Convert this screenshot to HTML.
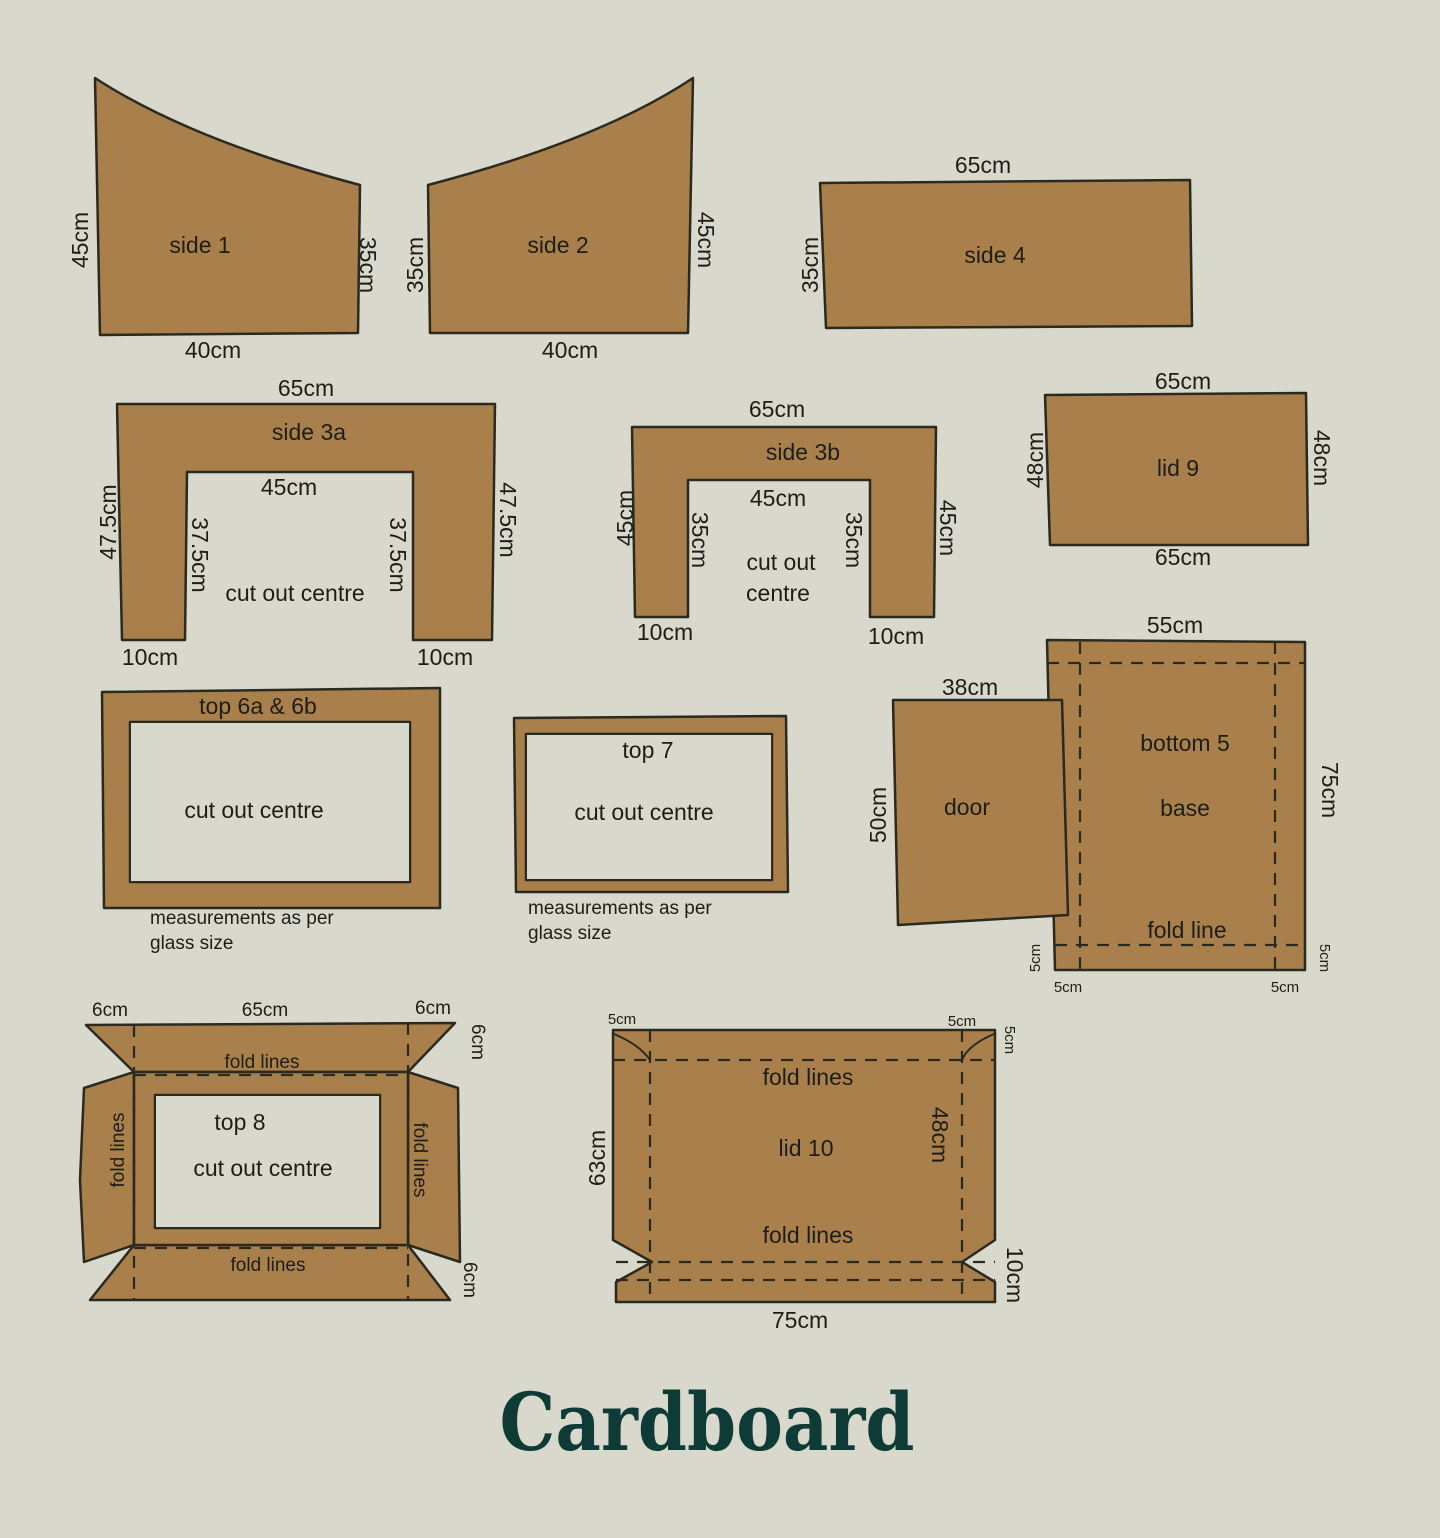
<!DOCTYPE html>
<html><head><meta charset="utf-8"><style>
html,body{margin:0;padding:0;background:#d8d8cc;}
svg{display:block}
text{font-family:"Liberation Sans",sans-serif;fill:#1e1e18;font-size:23px;}
.s{font-size:19px}
.xs{font-size:15px}
</style></head><body>
<svg width="1440" height="1538" viewBox="0 0 1440 1538" xmlns="http://www.w3.org/2000/svg">
<rect width="1440" height="1538" fill="#d8d8cc"/>
<g fill="#a9804b" stroke="#2a2a1e" stroke-width="2.5" stroke-linejoin="round">
<path d="M95,78 Q190,140 360,185 L358,333 L100,335 Z"/>
<path d="M428,185 Q600,140 693,78 L688,333 L430,333 Z"/>
<polygon points="820,183 1190,180 1192,326 826,328"/>
<polygon points="117,404 495,404 492,640 413,640 413,472 187,472 185,640 122,640"/>
<polygon points="632,427 936,427 934,617 870,617 870,480 688,480 688,617 635,617"/>
<polygon points="1045,395 1306,393 1308,545 1050,545"/>
<path d="M102,692 L440,688 L440,908 L104,908 Z M130,722 L130,882 L410,882 L410,722 Z" fill-rule="evenodd"/>
<path d="M514,718 L786,716 L788,892 L516,892 Z M526,734 L526,880 L772,880 L772,734 Z" fill-rule="evenodd"/>
<polygon points="1047,640 1305,642 1305,970 1055,970"/>
<polygon points="893,700 1062,700 1068,915 898,925"/>
<polygon points="86,1025 455,1023 408,1072 134,1072"/>
<polygon points="84,1088 134,1072 134,1245 84,1262 80,1180"/>
<polygon points="408,1072 458,1088 460,1262 408,1245"/>
<polygon points="134,1245 408,1245 450,1300 90,1300"/>
<path d="M134,1072 L408,1072 L408,1245 L134,1245 Z M155,1095 L155,1228 L380,1228 L380,1095 Z" fill-rule="evenodd"/>
<polygon points="613,1030 995,1030 995,1240 962,1262 995,1282 995,1302 616,1302 616,1282 652,1262 613,1240"/>
</g>
<g fill="#d8d8cc" stroke="none">
<rect x="156" y="1096" width="223" height="131"/>
<rect x="131" y="723" width="278" height="158"/>
<rect x="527" y="735" width="244" height="144"/>
</g>
<g stroke="#2a2a1e" stroke-width="2" fill="none">
<path d="M614,1034 Q640,1045 650,1060"/><path d="M994,1034 Q968,1045 962,1060"/>
</g>
<g stroke="#2a2a1e" stroke-width="2.2" stroke-dasharray="12,9" fill="none">
<line x1="1047" y1="663" x2="1305" y2="663"/><line x1="1055" y1="945" x2="1305" y2="945"/>
<line x1="1080" y1="642" x2="1080" y2="970"/><line x1="1275" y1="642" x2="1275" y2="970"/>
<line x1="134" y1="1025" x2="134" y2="1300"/><line x1="408" y1="1023" x2="408" y2="1300"/>
<line x1="134" y1="1075" x2="408" y2="1075"/><line x1="134" y1="1248" x2="408" y2="1248"/>
<line x1="613" y1="1060" x2="995" y2="1060"/><line x1="616" y1="1262" x2="995" y2="1262"/>
<line x1="616" y1="1280" x2="995" y2="1280"/>
<line x1="650" y1="1030" x2="650" y2="1302"/><line x1="962" y1="1030" x2="962" y2="1302"/>
</g>
<g text-anchor="middle">
<text x="80" y="240" transform="rotate(-90 80 240)" dy="8">45cm</text>
<text x="200" y="253">side 1</text>
<text x="368" y="265" transform="rotate(90 368 265)" dy="8">35cm</text>
<text x="213" y="358">40cm</text>
<text x="415" y="265" transform="rotate(-90 415 265)" dy="8">35cm</text>
<text x="558" y="253">side 2</text>
<text x="706" y="240" transform="rotate(90 706 240)" dy="8">45cm</text>
<text x="570" y="358">40cm</text>
<text x="983" y="173">65cm</text>
<text x="810" y="265" transform="rotate(-90 810 265)" dy="8">35cm</text>
<text x="995" y="263">side 4</text>
<text x="306" y="396">65cm</text>
<text x="309" y="440">side 3a</text>
<text x="289" y="495">45cm</text>
<text x="108" y="522" transform="rotate(-90 108 522)" dy="8">47.5cm</text>
<text x="200" y="555" transform="rotate(90 200 555)" dy="8">37.5cm</text>
<text x="398" y="555" transform="rotate(90 398 555)" dy="8">37.5cm</text>
<text x="508" y="520" transform="rotate(90 508 520)" dy="8">47.5cm</text>
<text x="295" y="601">cut out centre</text>
<text x="150" y="665">10cm</text>
<text x="445" y="665">10cm</text>
<text x="777" y="417">65cm</text>
<text x="803" y="460">side 3b</text>
<text x="778" y="506">45cm</text>
<text x="625" y="518" transform="rotate(-90 625 518)" dy="8">45cm</text>
<text x="700" y="540" transform="rotate(90 700 540)" dy="8">35cm</text>
<text x="854" y="540" transform="rotate(90 854 540)" dy="8">35cm</text>
<text x="948" y="528" transform="rotate(90 948 528)" dy="8">45cm</text>
<text x="781" y="570">cut out</text>
<text x="778" y="601">centre</text>
<text x="665" y="640">10cm</text>
<text x="896" y="644">10cm</text>
<text x="1183" y="389">65cm</text>
<text x="1035" y="460" transform="rotate(-90 1035 460)" dy="8">48cm</text>
<text x="1178" y="476">lid 9</text>
<text x="1322" y="458" transform="rotate(90 1322 458)" dy="8">48cm</text>
<text x="1183" y="565">65cm</text>
<text x="258" y="714">top 6a &amp; 6b</text>
<text x="254" y="818">cut out centre</text>
<text x="648" y="758">top 7</text>
<text x="644" y="820">cut out centre</text>
<text x="1175" y="633">55cm</text>
<text x="970" y="695">38cm</text>
<text x="878" y="815" transform="rotate(-90 878 815)" dy="8">50cm</text>
<text x="967" y="815">door</text>
<text x="1185" y="751">bottom 5</text>
<text x="1185" y="816">base</text>
<text x="1330" y="790" transform="rotate(90 1330 790)" dy="8">75cm</text>
<text x="1187" y="938">fold line</text>
<text x="110" y="1016" class="s">6cm</text>
<text x="265" y="1016" class="s">65cm</text>
<text x="433" y="1014" class="s">6cm</text>
<text x="478" y="1042" class="s" transform="rotate(90 478 1042)" dy="6">6cm</text>
<text x="262" y="1068" class="s">fold lines</text>
<text x="240" y="1130">top 8</text>
<text x="263" y="1176">cut out centre</text>
<text x="118" y="1150" class="s" transform="rotate(-90 118 1150)" dy="6">fold lines</text>
<text x="420" y="1160" class="s" transform="rotate(90 420 1160)" dy="6">fold lines</text>
<text x="268" y="1271" class="s">fold lines</text>
<text x="470" y="1280" class="s" transform="rotate(90 470 1280)" dy="6">6cm</text>
<text x="622" y="1024" class="xs">5cm</text>
<text x="962" y="1026" class="xs">5cm</text>
<text x="1010" y="1040" class="xs" transform="rotate(90 1010 1040)" dy="5">5cm</text>
<text x="808" y="1085">fold lines</text>
<text x="806" y="1156">lid 10</text>
<text x="940" y="1135" transform="rotate(90 940 1135)" dy="8">48cm</text>
<text x="597" y="1158" transform="rotate(-90 597 1158)" dy="8">63cm</text>
<text x="808" y="1243">fold lines</text>
<text x="1015" y="1275" transform="rotate(90 1015 1275)" dy="8">10cm</text>
<text x="800" y="1328">75cm</text>
<text x="1035" y="958" class="xs" transform="rotate(-90 1035 958)" dy="5">5cm</text>
<text x="1068" y="992" class="xs">5cm</text>
<text x="1285" y="992" class="xs">5cm</text>
<text x="1325" y="958" class="xs" transform="rotate(90 1325 958)" dy="5">5cm</text>
</g>
<g class="s">
<text x="150" y="924" class="s">measurements as per</text>
<text x="150" y="949" class="s">glass size</text>
<text x="528" y="914" class="s">measurements as per</text>
<text x="528" y="939" class="s">glass size</text>
</g>
<text x="707" y="1450" text-anchor="middle" textLength="415" lengthAdjust="spacingAndGlyphs" style="font-family:'DejaVu Serif','Liberation Serif',serif;font-weight:bold;font-size:80px;fill:#0e3b36">Cardboard</text>
</svg>
</body></html>
